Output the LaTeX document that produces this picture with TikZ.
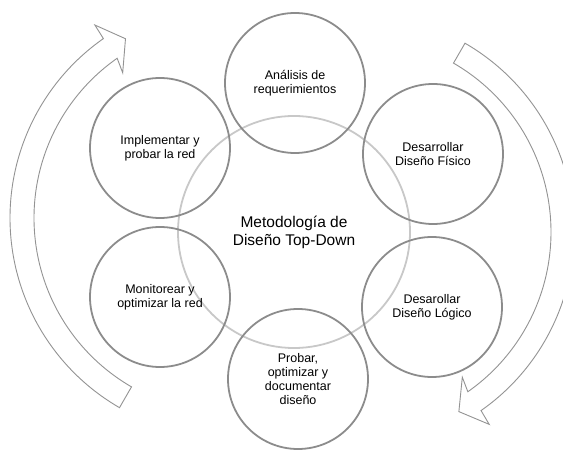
\documentclass[tikz,border=0pt]{standalone}
\usepackage{fontspec}
\setmainfont{Liberation Sans}
\usetikzlibrary{positioning}
\definecolor{ringgray}{HTML}{8C8C8C}
\definecolor{hubgray}{HTML}{C8C8C8}
\definecolor{arrowgray}{HTML}{939393}

\begin{document}
\begin{tikzpicture}[x=1pt,y=1pt,
  etapa/.style={circle,draw=ringgray,line width=1.8pt,minimum size=140pt,
    inner sep=0pt,align=center,font=\fontsize{12.5}{14}\selectfont},
  centro/.style={circle,draw=hubgray,line width=1.8pt,minimum size=232pt,
    inner sep=0pt,align=center,font=\fontsize{15.5}{18}\selectfont},
  flecha/.style={draw=arrowgray,line width=0.9pt,fill=white,line join=miter}]
\clip (0,0) rectangle (563,450);
% flechas del ciclo
\begin{scope}[shift={(229,232)}]
\draw[flecha] (240:219) arc[start angle=240,end angle=125,radius=219]
  -- (124.8:235) -- (120:207) -- (126.2:180) -- (125:195)
  arc[start angle=125,end angle=240,radius=195] -- cycle;
\end{scope}
\begin{scope}[shift={(356,218)}]
\draw[flecha] (60:218) arc[start angle=60,end angle=-55,radius=218]
  -- (-55.3:234) -- (-60.2:207) -- (-53.8:180) -- (-55:195)
  arc[start angle=-55,end angle=60,radius=195] -- cycle;
\end{scope}
% circulo central
\node[centro] (metodo) at (294,218) {Metodolog\'ia de\\Dise\~no Top-Down};
% etapas
\node[etapa] (analisis) at (295,367) {An\'alisis de\\requerimientos};
\node[etapa] (fisico) at (433,296) {Desarrollar\\Dise\~no F\'isico};
\node[etapa] (logico) at (432,143) {Desarollar\\Dise\~no L\'ogico};
\node[etapa] (probar) at (298,71) {Probar,\\optimizar y\\documentar\\dise\~no};
\node[etapa] (monitor) at (160,153) {Monitorear y\\optimizar la red};
\node[etapa] (implementar) at (160,302) {Implementar y\\probar la red};
\end{tikzpicture}
\end{document}
